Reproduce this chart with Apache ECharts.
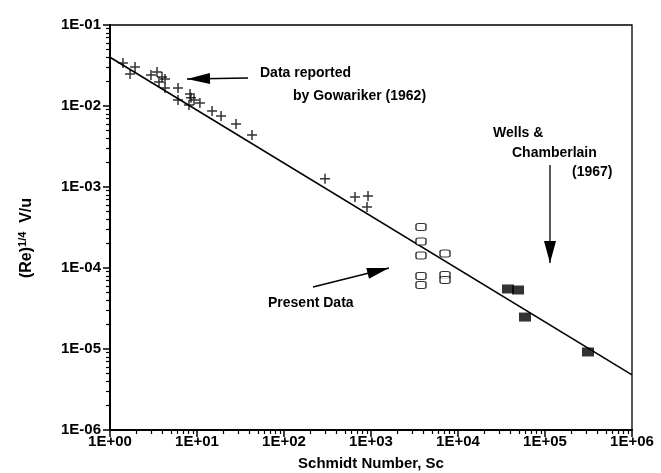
<!DOCTYPE html>
<html>
<head>
<meta charset="utf-8">
<script src="https://cdn.jsdelivr.net/npm/echarts@6/dist/echarts.min.js"></script>
<style>html,body{margin:0;padding:0;background:#fff}#c{width:661px;height:473px}</style>
</head>
<body>
<div id="c"></div>
<script>
// Gowariker (1962) data (plus markers)
const gowSc = [1.41, 1.94, 1.70, 2.96, 3.47, 3.96, 4.29, 3.66, 4.29, 6.05, 6.05, 8.31, 8.53, 9.24, 10.8, 8.09, 14.9, 18.9, 28.1, 42.9, 296, 655, 924, 900];
const gowV  = [0.034, 0.0303, 0.0248, 0.0242, 0.0263, 0.0228, 0.0215, 0.0198, 0.0167, 0.0167, 0.0119, 0.0141, 0.0126, 0.0119, 0.0109, 0.0103, 0.00867, 0.00753, 0.0060, 0.00439, 0.00126, 0.000753, 0.000775, 0.000566];
// Present data (open squares)
const presSc = [3755, 3755, 3755, 7092, 3755, 3755, 7092, 7092];
const presV  = [3.21e-4, 2.12e-4, 1.43e-4, 1.51e-4, 7.96e-5, 6.17e-5, 8.20e-5, 7.11e-5];
// Wells & Chamberlain (1967) (filled squares)
const wellsSc = [37550, 48980, 58880, 312000];
const wellsV  = [5.51e-5, 5.35e-5, 2.48e-5, 9.19e-6];
// Correlation line endpoints
const lineSc = [1, 1e6];
const lineV  = [0.040, 4.8e-6];
// Tick labels
const xTickLabels = ['1E+00', '1E+01', '1E+02', '1E+03', '1E+04', '1E+05', '1E+06'];
const yTickLabels = ['1E-06', '1E-05', '1E-04', '1E-03', '1E-02', '1E-01'];

const zip = (a, b) => a.map((v, i) => [v, b[i]]);
const minorVals = (e0, e1) => { const out = []; for (let e = e0; e < e1; e++) for (let k = 2; k <= 9; k++) out.push(k * Math.pow(10, e)); return out; };

const font = 'Liberation Sans, Arial, sans-serif';
const gridRect = { left: 110, right: 29, top: 25, bottom: 43, containLabel: false, outerBoundsMode: 'none' };

function arrowHead(tx, ty, fx, fy, len, hw) {
  const dx = tx - fx, dy = ty - fy, L = Math.hypot(dx, dy);
  const ux = dx / L, uy = dy / L;
  const bx = tx - ux * len, by = ty - uy * len;
  return [[tx, ty], [bx - uy * hw, by + ux * hw], [bx + uy * hw, by - ux * hw]];
}
function arrow(fx, fy, tx, ty, len, hw) {
  return [
    { type: 'polyline', shape: { points: [[fx, fy], [tx, ty]] }, style: { stroke: '#000', lineWidth: 1.3, fill: null } },
    { type: 'polygon', shape: { points: arrowHead(tx, ty, fx, fy, len, hw) }, style: { fill: '#000' } }
  ];
}
function txt(s, x, y) {
  return { type: 'text', x: x, y: y, style: { text: s, font: 'bold 14px ' + font, fill: '#000', verticalAlign: 'middle', align: 'left' } };
}

const chart = echarts.init(document.getElementById('c'), null, { renderer: 'canvas' });
const axisLabelStyle = { color: '#000', fontFamily: font, fontSize: 15, fontWeight: 'bold' };
chart.setOption({
  animation: false,
  backgroundColor: '#fff',
  grid: [
    Object.assign({ show: true, borderColor: '#000', borderWidth: 1.3, backgroundColor: 'transparent' }, gridRect),
    Object.assign({ show: false }, gridRect)
  ],
  xAxis: [
    {
      type: 'log', logBase: 10, min: 1, max: 1e6, gridIndex: 0,
      name: 'Schmidt Number, Sc', nameLocation: 'middle', nameGap: 26,
      nameTextStyle: { color: '#000', fontFamily: font, fontSize: 15, fontWeight: 'bold' },
      axisLine: { show: true, lineStyle: { color: '#000', width: 2 } },
      axisTick: { show: true, inside: false, length: 7, lineStyle: { color: '#000', width: 1.5 } },
      axisLabel: { ...axisLabelStyle, margin: 4, formatter: v => xTickLabels[Math.round(Math.log10(v))] },
      splitLine: { show: false }
    },
    {
      type: 'log', logBase: 10, min: 1, max: 1e6, gridIndex: 1,
      axisLine: { show: false },
      axisTick: { show: true, inside: false, length: 4, customValues: minorVals(0, 6), lineStyle: { color: '#000', width: 1.2 } },
      axisLabel: { show: false },
      splitLine: { show: false }
    }
  ],
  yAxis: [
    {
      type: 'log', logBase: 10, min: 1e-6, max: 1e-1, gridIndex: 0,
      axisLine: { show: true, lineStyle: { color: '#000', width: 2 } },
      axisTick: { show: true, inside: false, length: 7, lineStyle: { color: '#000', width: 1.5 } },
      axisLabel: { ...axisLabelStyle, margin: 9, formatter: v => yTickLabels[Math.round(Math.log10(v)) + 6] },
      splitLine: { show: false }
    },
    {
      type: 'log', logBase: 10, min: 1e-6, max: 1e-1, gridIndex: 1,
      axisLine: { show: false },
      axisTick: { show: true, inside: false, length: 4, customValues: minorVals(-6, -1), lineStyle: { color: '#000', width: 1.2 } },
      axisLabel: { show: false },
      splitLine: { show: false }
    }
  ],
  series: [
    {
      type: 'line', xAxisIndex: 0, yAxisIndex: 0, data: zip(lineSc, lineV), showSymbol: false, symbol: 'none',
      lineStyle: { color: '#000', width: 1.6 }, z: 2
    },
    {
      type: 'scatter', xAxisIndex: 0, yAxisIndex: 0, data: zip(gowSc, gowV),
      symbol: 'path://M0,5L10,5M5,0L5,10', symbolSize: 10,
      itemStyle: { color: 'none', borderColor: '#000', borderWidth: 1.5 }, z: 3
    },
    {
      type: 'scatter', xAxisIndex: 0, yAxisIndex: 0, data: zip(presSc, presV),
      symbol: 'roundRect', symbolSize: [10, 7],
      itemStyle: { color: '#fff', borderColor: '#000', borderWidth: 1.2 }, z: 3
    },
    {
      type: 'scatter', xAxisIndex: 0, yAxisIndex: 0, data: zip(wellsSc, wellsV),
      symbol: 'rect', symbolSize: [12, 9],
      itemStyle: { color: '#000' }, z: 3
    }
  ],
  graphic: [
    {
      type: 'text', x: 27, y: 238, rotation: Math.PI / 2,
      style: {
        text: '{a|(Re)}{s|1/4}{a|  V/u}', align: 'center', verticalAlign: 'middle', fill: '#000',
        rich: {
          a: { fontFamily: font, fontSize: 16, fontWeight: 'bold', fill: '#000', lineHeight: 19 },
          s: { fontFamily: font, fontSize: 11, fontWeight: 'bold', fill: '#000', verticalAlign: 'top', lineHeight: 19 }
        }
      }
    },
    ...arrow(248, 78, 187, 79, 23, 5.5),
    txt('Data reported', 260, 73),
    txt('by Gowariker (1962)', 293, 96),
    ...arrow(313, 287, 389, 268, 22, 5.5),
    txt('Present Data', 268, 303),
    ...arrow(550, 165, 550, 263, 22, 6),
    txt('Wells &', 493, 133),
    txt('Chamberlain', 512, 153),
    txt('(1967)', 572, 172)
  ]
});
</script>
</body>
</html>
